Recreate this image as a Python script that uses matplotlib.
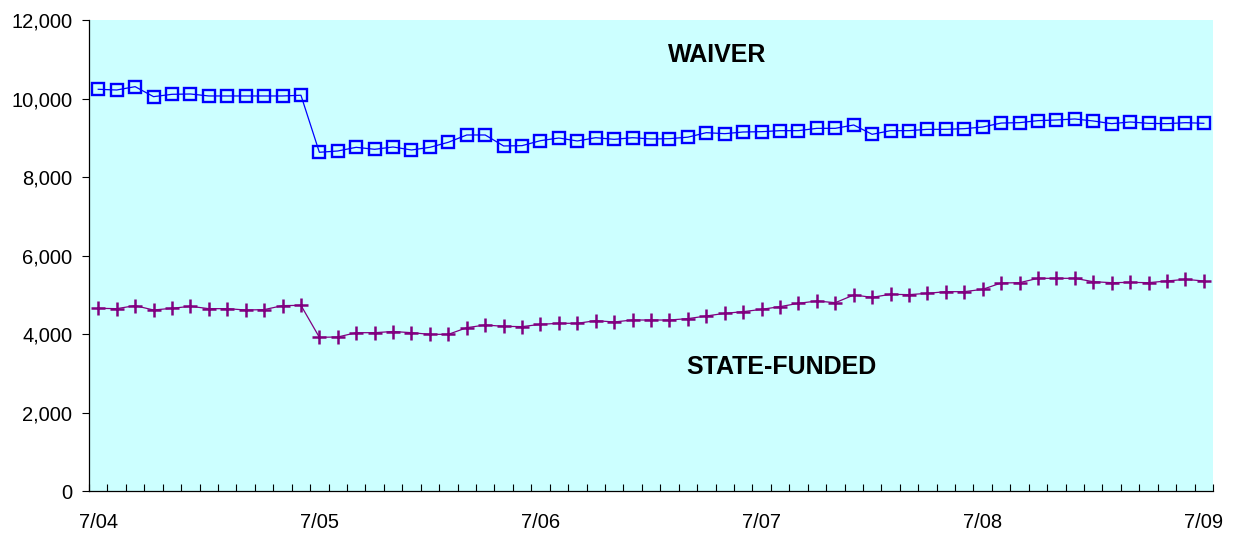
import matplotlib.pyplot as plt
from matplotlib.ticker import FuncFormatter, MultipleLocator

plt.rcParams['font.family'] = ['Liberation Sans', 'DejaVu Sans']

# monthly counts, July 2004 through July 2009
year_labels = ['7/04', '7/05', '7/06', '7/07', '7/08', '7/09']

waiver = [10235, 10217, 10302, 10047, 10107, 10115, 10065, 10065, 10065, 10065,
          10065, 10083, 8630, 8663, 8757, 8706, 8765, 8689, 8757, 8885,
          9071, 9071, 8791, 8799, 8926, 8994, 8918, 9002, 8960, 9002,
          8969, 8977, 9015, 9130, 9104, 9147, 9155, 9181, 9181, 9240,
          9240, 9325, 9088, 9181, 9181, 9215, 9215, 9232, 9274, 9375,
          9385, 9436, 9453, 9479, 9428, 9359, 9402, 9368, 9359, 9385,
          9368]

state_funded = [4655, 4646, 4723, 4612, 4655, 4706, 4646, 4646, 4612, 4621,
                4723, 4731, 3916, 3924, 4034, 4034, 4064, 4034, 3992, 3992,
                4161, 4230, 4196, 4188, 4247, 4273, 4273, 4340, 4307, 4357,
                4357, 4357, 4392, 4459, 4527, 4569, 4629, 4697, 4782, 4841,
                4798, 4994, 4935, 5012, 5003, 5037, 5079, 5079, 5139, 5300,
                5308, 5419, 5419, 5419, 5333, 5308, 5316, 5308, 5351, 5393,
                5351]

months = list(range(len(waiver)))

fig = plt.figure(figsize=(12.35, 5.35), dpi=100)
ax = fig.add_axes([0.0721, 0.0822, 0.9101, 0.8804])
ax.set_facecolor('#CCFFFF')

ax.plot(months, waiver, c='#0000FF', lw=0.9, marker='s', ms=8,
        mfc='none', mec='#0000FF', mew=1.7)
ax.plot(months, state_funded, c='#800080', lw=0.9, marker='+', ms=10,
        mec='#800080', mew=1.8)

ax.text(33.6, 11100, 'WAIVER', ha='center', va='center',
        fontsize=18, fontweight='bold')
ax.text(37.1, 3160, 'STATE-FUNDED', ha='center', va='center',
        fontsize=18, fontweight='bold')

ax.set_xlim(-0.5, len(months) - 0.5)
ax.set_ylim(0, 12000)

ax.set_xticks(range(0, len(months), 12))
ax.set_xticklabels(year_labels)
ax.xaxis.set_minor_locator(MultipleLocator(1, offset=0.5))
ax.tick_params(axis='x', which='major', length=0, pad=16, labelsize=14.5)
ax.tick_params(axis='x', which='minor', direction='in', length=5, width=0.8)

ax.yaxis.set_major_locator(MultipleLocator(2000))
ax.yaxis.set_major_formatter(FuncFormatter(lambda v, p: f'{int(v):,}'))
ax.tick_params(axis='y', direction='out', length=5, width=0.8, labelsize=14.5, pad=7)

for side in ['top', 'right']:
    ax.spines[side].set_visible(False)
for side in ['left', 'bottom']:
    ax.spines[side].set_linewidth(0.9)

fig.savefig('out.png', dpi=100)
